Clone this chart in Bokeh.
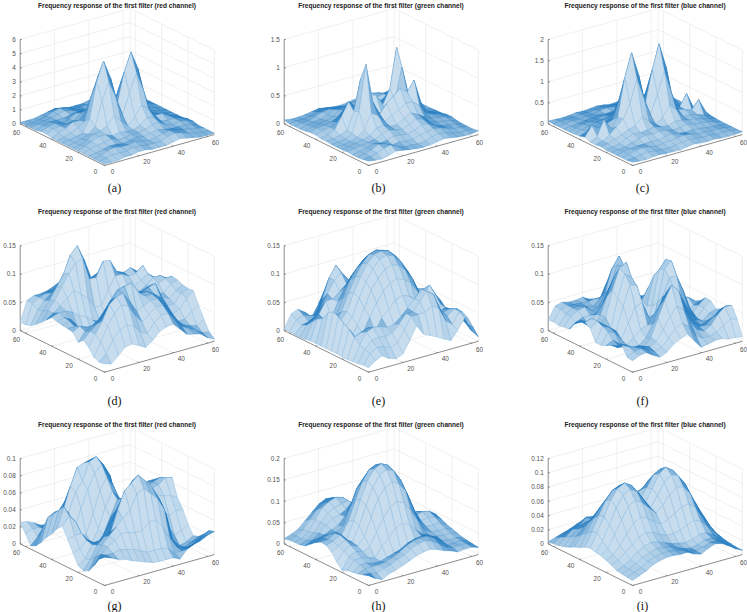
import math
from bokeh.plotting import figure
from bokeh.models import Range1d, ColumnDataSource
from bokeh.core.properties import value
from bokeh.embed import file_html
from bokeh.resources import INLINE

# Heights, on nodes x, y = 0, 4, ... 64 (rows: y, columns: x)
NODES = list(range(0, 65, 4))

Z_A = [  # unit 0.1
[1,1,1,2,2,3,3,2,2,2,3,4,3,2,1,1,1],
[1,2,3,3,3,4,4,3,3,3,5,6,5,3,2,1,1],
[1,2,4,5,4,4,5,4,3,4,5,6,5,4,3,2,1],
[1,2,3,4,4,3,4,5,4,5,6,5,4,4,4,3,1],
[1,3,4,5,6,4,4,5,5,6,8,8,5,4,5,4,2],
[1,3,5,7,7,5,6,5,5,7,11,10,6,5,5,4,2],
[1,2,4,7,8,10,16,11,6,11,18,14,8,8,5,3,1],
[1,2,3,5,9,26,38,26,12,26,39,26,9,6,4,2,1],
[1,2,3,4,13,38,51,38,18,39,52,39,13,4,3,2,1],
[1,2,4,6,9,26,39,26,12,26,38,26,9,5,3,2,1],
[1,3,5,8,8,14,18,11,6,11,16,10,8,7,4,2,1],
[2,4,5,5,6,10,11,7,5,5,6,5,7,7,5,3,1],
[2,4,5,4,5,8,8,6,5,5,4,4,6,5,4,3,1],
[1,3,4,4,4,5,6,5,4,5,4,3,4,4,3,2,1],
[1,2,3,4,5,6,5,4,3,4,5,4,4,5,4,2,1],
[1,1,2,3,5,6,5,3,3,3,4,4,3,3,3,2,1],
[1,1,1,2,3,4,3,2,2,2,3,3,2,2,1,1,1]]

Z_B = [  # unit 0.01
[8,6,5,8,12,10,8,6,5,6,8,10,8,6,5,5,7],
[6,8,10,15,18,12,8,8,6,8,12,14,12,8,6,6,5],
[5,8,12,18,15,10,12,10,10,14,16,18,16,12,8,7,5],
[5,7,10,14,12,14,18,16,14,18,24,22,16,12,10,8,5],
[6,8,10,12,14,20,24,20,18,24,30,26,18,14,12,10,6],
[5,7,9,12,16,26,28,22,22,30,36,30,22,16,14,12,8],
[5,6,8,12,22,48,40,26,34,40,48,48,38,20,15,12,8],
[5,6,8,14,50,130,60,35,50,60,70,60,78,35,15,10,6],
[6,7,10,15,45,100,45,30,30,30,45,100,45,15,10,7,6],
[6,10,15,35,58,45,60,60,55,35,60,130,50,14,8,6,5],
[8,12,15,20,38,48,48,40,34,26,40,48,22,12,8,6,5],
[8,12,14,16,22,30,36,30,22,22,28,26,16,12,9,7,5],
[6,10,12,14,18,26,30,24,18,20,24,20,14,12,10,8,6],
[5,8,10,12,16,22,24,18,14,16,18,14,12,14,10,7,5],
[5,7,8,12,16,18,16,14,10,10,12,10,15,18,12,8,5],
[5,6,6,8,12,14,12,8,6,8,8,12,18,15,10,8,6],
[7,5,5,6,8,10,8,6,5,6,8,10,12,8,5,6,8]]

Z_C = [  # unit 0.01
[8,6,5,7,8,6,6,5,8,10,8,7,8,6,5,6,7],
[6,8,10,12,10,8,8,10,12,14,12,10,10,8,8,7,6],
[6,9,14,16,14,10,12,14,16,18,16,12,12,10,10,8,6],
[6,9,12,14,14,16,14,18,20,16,14,16,14,12,10,8,6],
[6,8,10,16,20,24,22,24,22,18,20,22,18,16,14,10,6],
[6,8,12,20,26,24,26,28,24,22,28,26,22,20,16,12,7],
[8,10,16,22,30,34,50,36,24,36,60,44,24,24,20,14,8],
[6,10,20,34,48,80,135,85,40,85,135,80,34,30,24,44,12],
[6,14,50,24,46,135,190,135,60,135,193,135,46,30,57,20,6],
[12,35,24,28,34,80,135,85,40,85,135,80,42,43,22,10,6],
[8,14,20,24,24,44,60,36,24,36,50,34,30,22,16,10,8],
[7,12,16,20,22,26,28,22,24,28,26,24,26,20,12,8,6],
[6,10,14,16,18,22,20,18,22,24,22,24,20,16,10,8,6],
[6,8,10,12,14,16,14,16,20,18,14,16,14,12,9,9,6],
[6,8,10,10,12,12,16,18,16,14,12,10,14,16,14,9,6],
[6,7,8,8,10,10,12,14,12,10,8,8,10,12,10,8,6],
[7,6,5,6,8,7,8,10,8,5,6,6,8,7,5,6,8]]

Z_D = [  # unit 0.001
[15,11,22,34,36,30,23,32,44,49,51,39,26,23,20,10,4],
[13,25,45,60,65,60,45,40,55,65,65,50,35,28,22,14,12],
[17,40,65,85,95,90,70,55,65,75,75,60,42,30,25,22,30],
[30,50,70,95,105,108,90,70,75,82,82,68,48,32,32,42,50],
[38,50,60,75,95,110,113,115,95,85,85,72,55,40,45,60,71],
[30,45,52,60,75,90,100,105,95,85,85,78,68,50,50,65,70],
[43,50,45,35,50,70,85,90,85,80,80,85,88,60,55,65,72],
[45,45,35,20,25,45,60,65,65,65,65,75,80,62,60,72,76],
[46,50,40,15,10,20,35,45,40,45,55,65,65,65,72,78,78],
[48,52,45,25,15,15,20,30,25,35,50,60,60,68,78,78,70],
[51,55,55,50,40,35,25,20,22,45,65,70,65,72,80,70,60],
[42,50,60,70,80,70,60,40,40,65,85,85,78,80,90,65,50],
[33,50,65,85,105,120,125,85,85,110,108,85,80,85,75,55,40],
[25,45,60,80,100,130,143,115,80,85,80,70,70,70,55,35,25],
[18,42,55,65,75,95,110,90,60,55,55,50,50,50,35,25,20],
[15,48,56,60,62,70,80,65,40,35,40,45,45,42,28,20,15],
[15,50,55,55,57,62,68,50,26,30,40,50,50,45,30,20,15]]

Z_E = [  # unit 0.001
[8,17,22,14,10,15,35,58,40,34,28,21,15,30,48,22,8],
[8,25,32,30,25,30,50,70,70,70,78,70,45,35,55,30,20],
[6,28,40,42,40,42,55,70,70,85,100,90,60,45,55,35,32],
[5,30,50,55,53,48,50,60,72,85,98,90,65,45,50,40,38],
[4,40,45,50,38,60,72,85,90,85,72,60,45,42,45,42,39],
[4,50,30,35,60,82,100,110,115,110,100,82,60,35,30,40,30],
[5,55,28,45,72,100,118,130,135,130,118,100,72,45,25,42,28],
[5,62,40,55,85,110,130,143,147,143,130,110,85,55,40,55,38],
[5,66,45,60,90,115,135,147,150,147,135,115,90,60,45,66,44],
[5,60,40,55,85,110,130,143,147,143,130,110,85,55,40,55,44],
[5,45,30,45,72,100,118,130,135,130,118,100,72,45,30,50,42],
[5,40,35,35,60,82,100,110,115,110,100,82,60,35,15,45,39],
[3,30,40,60,60,70,80,85,90,85,72,60,45,30,20,30,30],
[2,20,28,45,65,85,95,80,60,55,45,38,25,20,15,20,20],
[2,15,18,25,50,85,104,85,50,35,30,25,20,15,10,10,10],
[3,20,25,20,20,55,75,60,30,22,18,15,12,8,6,5,5],
[3,26,31,22,10,30,45,35,15,12,10,8,6,5,4,3,3]]

Z_F = [  # unit 0.001
[20,26,28,20,13,18,29,35,40,25,10,12,15,15,11,10,8],
[22,28,30,25,18,22,35,48,55,45,25,18,18,22,30,38,35],
[38,32,28,25,22,28,45,65,80,70,45,28,22,30,45,55,54],
[30,28,22,18,18,30,60,90,112,100,65,40,25,25,35,45,49],
[29,25,20,15,15,25,45,75,95,100,80,50,30,20,25,30,39],
[24,30,20,15,25,35,40,55,60,85,85,70,45,25,20,30,34],
[20,40,35,20,45,70,75,45,25,75,105,105,75,40,20,35,44],
[20,45,40,30,70,105,100,45,8,60,115,127,90,40,22,35,45],
[40,50,40,30,80,120,110,50,5,50,110,125,80,30,25,30,35],
[47,50,35,45,90,125,132,75,10,45,95,100,60,25,30,40,30],
[45,40,25,45,75,105,115,85,40,50,70,70,50,25,30,35,25],
[35,35,25,40,55,80,95,100,75,55,45,40,30,20,25,30,20],
[21,30,35,35,35,50,75,110,105,80,50,30,20,20,25,30,15],
[20,35,42,45,35,38,60,100,118,90,55,30,18,15,20,25,10],
[18,35,42,42,38,35,45,70,78,55,30,20,15,20,22,20,8],
[20,38,42,40,40,38,40,40,40,25,18,15,15,18,20,15,6],
[19,40,43,40,40,42,35,17,12,10,10,10,12,15,15,10,5]]

Z_G = [  # unit 0.001
[33,30,26,24,20,17,14,11,10,10,10,6,15,19,21,25,27],
[28,30,30,32,30,28,24,20,20,20,18,10,10,12,15,20,25],
[17,28,34,40,45,45,42,42,50,50,40,25,12,8,8,12,18],
[8,22,34,42,50,58,65,82,86,78,70,55,20,6,4,8,12],
[5,16,30,38,42,65,85,92,99,90,80,65,45,12,3,5,10],
[8,14,28,30,30,42,62,80,90,85,72,58,42,25,12,15,20],
[20,22,30,25,22,30,48,65,75,75,68,60,50,40,32,35,35],
[33,35,35,25,18,22,35,50,62,62,60,55,55,55,52,50,45],
[45,55,45,25,14,12,22,40,58,55,48,42,55,60,62,68,66],
[39,62,48,28,15,10,25,48,65,55,42,30,42,58,62,65,60],
[30,55,48,30,18,18,40,65,78,65,42,28,30,50,60,60,50],
[23,48,50,35,22,45,65,82,90,75,48,30,28,40,50,45,35],
[14,41,45,32,40,62,72,92,96,85,70,35,25,30,35,30,22],
[7,25,30,22,40,65,85,88,90,85,70,50,22,20,20,18,15],
[4,12,18,15,25,45,62,72,72,60,42,28,18,14,12,10,10],
[15,18,18,15,20,32,42,48,45,38,28,20,14,10,8,6,5],
[25,24,20,15,14,20,25,28,25,22,18,14,10,6,4,3,2]]

Z_H = [  # unit 0.001
[23,12,5,14,18,24,31,38,42,44,39,32,27,20,22,22,17],
[19,18,14,20,24,32,38,48,55,58,52,42,30,24,24,24,18],
[15,22,22,22,24,30,38,48,55,58,58,50,36,24,24,25,20],
[13,25,25,20,20,25,30,35,45,50,52,50,40,28,25,26,22],
[11,30,32,28,22,45,60,78,85,78,60,45,36,32,30,30,26],
[5,32,40,35,42,72,100,122,130,122,100,72,45,36,35,35,30],
[18,40,48,42,60,100,140,160,170,160,140,100,60,42,42,42,34],
[35,45,55,45,78,122,160,185,192,185,160,122,78,50,52,50,40],
[45,50,60,45,85,130,170,192,200,192,170,130,85,55,61,57,45],
[47,48,58,50,78,122,160,185,192,185,160,122,78,52,55,50,40],
[40,45,50,50,60,100,140,160,170,160,140,100,60,45,45,42,32],
[30,38,42,50,55,72,100,122,130,122,100,72,45,35,35,30,25],
[20,28,40,55,65,70,78,85,85,78,60,45,30,25,25,22,18],
[16,22,35,55,72,80,85,88,72,60,45,30,25,20,18,15,12],
[16,20,32,55,78,88,94,89,70,52,35,25,20,15,12,10,8],
[15,20,30,50,68,80,85,80,62,45,30,20,15,12,10,8,6],
[12,18,25,40,55,70,78,77,55,38,25,15,12,10,8,6,5]]

Z_I = [  # unit 0.001
[7,11,15,21,24,26,26,25,25,20,17,22,26,24,18,11,6],
[8,12,16,22,26,28,28,26,24,20,18,20,24,24,18,12,6],
[9,13,18,24,28,31,30,28,24,20,18,20,24,24,20,13,7],
[10,14,20,28,33,36,34,30,26,24,22,24,28,28,22,15,8],
[14,18,26,34,42,46,44,38,34,34,36,40,44,40,30,20,10],
[17,22,32,46,58,64,60,52,46,50,56,62,64,56,40,26,12],
[20,27,44,62,78,84,78,68,58,66,78,86,84,72,52,34,16],
[21,34,54,76,90,96,90,76,62,76,92,100,96,82,60,40,19],
[23,42,62,83,96,101,95,82,65,82,100,107,100,86,65,45,22],
[21,40,60,78,90,94,90,78,66,80,96,101,95,80,60,40,20],
[17,34,52,66,76,80,78,72,70,74,84,88,82,66,48,30,15],
[14,28,42,52,58,62,62,62,62,66,70,70,62,48,34,22,11],
[10,22,32,38,42,44,46,50,52,56,56,52,44,34,22,14,8],
[7,18,26,32,34,34,34,38,42,44,42,36,30,22,14,8,5],
[5,14,22,25,34,32,28,28,30,30,28,24,18,14,8,5,3],
[4,10,14,18,24,24,20,18,18,18,16,14,10,8,5,3,2],
[3,6,9,12,16,18,14,10,10,10,8,6,5,4,3,2,1]]

TABLES = [Z_A, Z_B, Z_C, Z_D, Z_E, Z_F, Z_G, Z_H, Z_I]
UNITS = [0.1, 0.01, 0.01, 0.001, 0.001, 0.001, 0.001, 0.001, 0.001]
Z_TOPS = [6, 1.5, 2, 0.15, 0.15, 0.15, 0.1, 0.2, 0.12]
Z_TICKS = [
    ["0", "1", "2", "3", "4", "5", "6"],
    ["0", "0.5", "1", "1.5"],
    ["0", "0.5", "1", "1.5", "2"],
    ["0", "0.05", "0.1", "0.15"],
    ["0", "0.05", "0.1", "0.15"],
    ["0", "0.05", "0.1", "0.15"],
    ["0", "0.02", "0.04", "0.06", "0.08", "0.1"],
    ["0", "0.05", "0.1", "0.15", "0.2"],
    ["0", "0.02", "0.04", "0.06", "0.08", "0.1", "0.12"],
]
XY_TICKS = [0, 20, 40, 60]
CHANNELS = ["red", "green", "blue"]
CAPTIONS = ["(a)", "(b)", "(c)", "(d)", "(e)", "(f)", "(g)", "(h)", "(i)"]
XY_MAX = 64

# layout of the projected boxes, in page pixels
COL_X = [104, 368, 632]
ROW_Y = [165, 371.7, 585]
ROW_ZH = [84.5, 85, 85.5]
TITLE_Y = [4.5, 210.8, 423.5]
CAPTION_Y = [187, 400, 605]
UX, UXY = 1.717, 0.483
VX, VXY = 1.317, 0.65

MESH = (31, 120, 190)
GRID = "#e6e6e6"
AXIS = "#5a5a5a"
TICK_TEXT = "#505050"

p = figure(width=747, height=612, x_range=Range1d(0, 747), y_range=Range1d(612, 0),
           x_axis_type=None, y_axis_type=None, toolbar_location=None,
           output_backend="svg", min_border=0, outline_line_color=None)
p.grid.visible = False

gx0, gy0 = [], []
ax, ay = [], []
qx, qy, qf, qe = [], [], [], []
lab_x, lab_y, lab_t = [], [], []
zlab_x, zlab_y, zlab_t = [], [], []


def tone(c):
    return "#%02x%02x%02x" % tuple(int(255 - c * (255 - m)) for m in MESH)


def shade(q):
    xs = [c[0] for c in q]
    ys = [c[1] for c in q]
    area = 0.0
    for k in range(4):
        area += xs[k] * ys[(k + 1) % 4] - xs[(k + 1) % 4] * ys[k]
    area = max(abs(area) / 2, 0.5)
    a = math.hypot(xs[1] - xs[0], ys[1] - ys[0]) + math.hypot(xs[2] - xs[3], ys[2] - ys[3])
    b = math.hypot(xs[3] - xs[0], ys[3] - ys[0]) + math.hypot(xs[2] - xs[1], ys[2] - ys[1])
    # tone of the fine wire mesh inside one table cell
    cover = 0.3 * (a + b) / 2 * 4 / area
    cover = max(0.25, min(0.85, cover))
    return tone(cover), tone(min(1.0, cover + 0.22))


for n in range(9):
    row, col = n // 3, n % 3
    ox, oy, zh = COL_X[col], ROW_Y[row], ROW_ZH[row]
    ztop = Z_TOPS[n]

    def pr(x, y, z):
        return (ox + UX * x - VX * y, oy - UXY * x - VXY * y - zh * z / ztop)

    def seg(a, b):
        gx0.append([a[0], b[0]])
        gy0.append([a[1], b[1]])

    # walls and floor
    for t in XY_TICKS[1:]:
        seg(pr(t, 0, 0), pr(t, XY_MAX, 0))
        seg(pr(t, XY_MAX, 0), pr(t, XY_MAX, ztop))
        seg(pr(0, t, 0), pr(XY_MAX, t, 0))
        seg(pr(XY_MAX, t, 0), pr(XY_MAX, t, ztop))
    ticks = Z_TICKS[n]
    for lab in ticks:
        z = float(lab)
        seg(pr(0, XY_MAX, z), pr(XY_MAX, XY_MAX, z))
        seg(pr(XY_MAX, XY_MAX, z), pr(XY_MAX, 0, z))
    seg(pr(XY_MAX, 0, 0), pr(XY_MAX, 0, ztop))
    seg(pr(XY_MAX, XY_MAX, 0), pr(XY_MAX, XY_MAX, ztop))

    # axes
    ax.append([pr(0, XY_MAX, 0)[0], pr(0, XY_MAX, ztop)[0]])
    ay.append([pr(0, XY_MAX, 0)[1], pr(0, XY_MAX, ztop)[1]])
    ax.append([pr(0, XY_MAX, 0)[0], pr(0, 0, 0)[0], pr(XY_MAX, 0, 0)[0]])
    ay.append([pr(0, XY_MAX, 0)[1], pr(0, 0, 0)[1], pr(XY_MAX, 0, 0)[1]])
    for lab in ticks:
        z = float(lab)
        a = pr(0, XY_MAX, z)
        ax.append([a[0], a[0] + 1.6])
        ay.append([a[1], a[1] + 0.2])
        zlab_x.append(a[0] - 4.5)
        zlab_y.append(a[1])
        zlab_t.append(lab)
    for t in XY_TICKS:
        a = pr(t, 0, 0)
        ax.append([a[0], a[0] - 0.9])
        ay.append([a[1], a[1] - 1.0])
        lab_x.append(a[0] + 8.0)
        lab_y.append(a[1] + 6.0)
        lab_t.append(str(t))
        a = pr(0, t, 0)
        ax.append([a[0], a[0] + 1.2])
        ay.append([a[1], a[1] - 0.5])
        lab_x.append(a[0] - 9.0)
        lab_y.append(a[1] + 6.0)
        lab_t.append(str(t))

    # surface, painted from the far corner to the near one
    table = TABLES[n]
    unit = UNITS[n]
    if len(table) != 17 or any(len(r) != 17 for r in table):
        raise ValueError("bad table %d %s" % (n, [len(r) for r in table]))
    cells = [(i, j) for j in range(16) for i in range(16)]
    cells.sort(key=lambda c: -(c[0] + c[1]))
    for i, j in cells:
        q = [pr(NODES[a], NODES[b], table[b][a] * unit)
             for a, b in ((i, j), (i + 1, j), (i + 1, j + 1), (i, j + 1))]
        qx.append([c[0] for c in q])
        qy.append([c[1] for c in q])
        f, e = shade(q)
        qf.append(f)
        qe.append(e)

p.multi_line(gx0, gy0, line_color=GRID, line_width=0.6)
p.multi_line(ax, ay, line_color=AXIS, line_width=0.7)
p.patches(source=ColumnDataSource(dict(xs=qx, ys=qy, f=qf, e=qe)), xs="xs", ys="ys",
          fill_color="f", line_color="e", line_width=0.5)

p.text(x=lab_x, y=lab_y, text=lab_t, text_font=value("Liberation Sans"), text_font_size="6.4px",
       text_color=TICK_TEXT, text_align="center", text_baseline="middle")
p.text(x=zlab_x, y=zlab_y, text=zlab_t, text_font=value("Liberation Sans"), text_font_size="6.4px",
       text_color=TICK_TEXT, text_align="right", text_baseline="middle")

tx, ty, tt, cx, cy, ct = [], [], [], [], [], []
for n in range(9):
    row, col = n // 3, n % 3
    tx.append(COL_X[col] + 12.5)
    ty.append(TITLE_Y[row])
    tt.append("Frequency response of the first filter (%s channel)" % CHANNELS[col])
    cx.append(COL_X[col] + 10)
    cy.append(CAPTION_Y[row])
    ct.append(CAPTIONS[n])
p.text(x=tx, y=ty, text=tt, text_font=value("Liberation Sans"), text_font_style="bold",
       text_font_size="6.6px", text_color="#222222", text_align="center", text_baseline="middle")
p.text(x=cx, y=cy, text=ct, text_font=value("Liberation Serif"), text_font_size="12px",
       text_color="#111111", text_align="center", text_baseline="middle")

open("out.html", "w").write(file_html(p, INLINE))
